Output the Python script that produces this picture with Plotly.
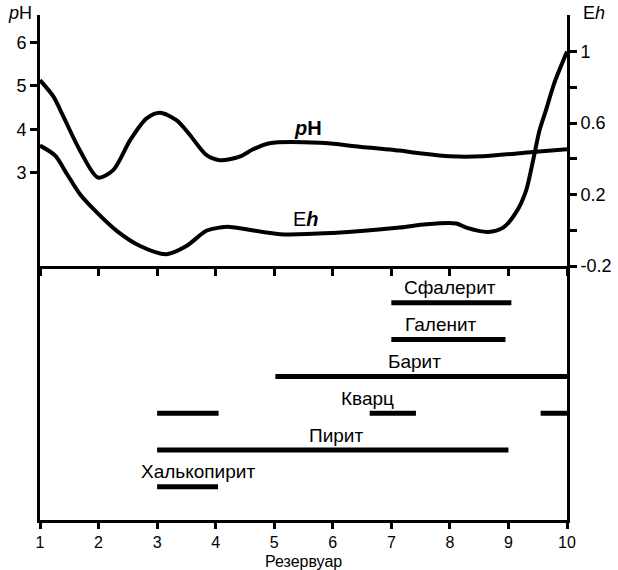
import plotly.graph_objects as go

# ---- data ----
ph_x = [1, 1.23, 1.4, 1.68, 1.99, 2.25, 2.54, 2.82, 3.05, 3.33, 3.56, 3.84, 4.07, 4.41, 4.64,
        4.92, 5.78, 6.46, 7.14, 7.48, 8.0, 8.56, 9.42, 10]
ph_y = [5.13, 4.75, 4.29, 3.52, 2.89, 3.06, 3.75, 4.25, 4.38, 4.21, 3.87, 3.41, 3.29, 3.37, 3.54,
        3.68, 3.69, 3.6, 3.51, 3.45, 3.38, 3.38, 3.48, 3.54]

eh_x = [1, 1.26, 1.46, 1.68, 1.97, 2.31, 2.71, 3.16, 3.5, 3.84, 4.07, 4.24, 5.1, 6.0, 7.14,
        7.6, 8.11, 8.28, 8.65, 8.91, 9.13, 9.3, 9.42, 9.53, 9.64, 9.78, 10]
eh_y = [0.474, 0.418, 0.315, 0.203, 0.10, -0.003, -0.088, -0.134, -0.088, -0.003, 0.015, 0.019,
        -0.022, -0.015, 0.015, 0.034, 0.038, 0.015, -0.009, 0.015, 0.10, 0.221, 0.39, 0.558,
        0.671, 0.821, 1.0]

minerals = ["Сфалерит", "Галенит", "Барит", "Кварц", "Пирит", "Халькопирит"]
mineral_level = [6, 5, 4, 3, 2, 1]
mineral_ranges = [
    [(7.0, 9.05)],
    [(7.0, 8.95)],
    [(5.02, 10.0)],
    [(3.0, 4.05), (6.63, 7.42), (9.55, 10.0)],
    [(3.0, 9.0)],
    [(3.0, 4.04)],
]
mineral_label_x = [8.0, 7.85, 7.4, 6.6, 6.05, 3.7]

x_ticks = [1, 2, 3, 4, 5, 6, 7, 8, 9, 10]
ph_ticks = [3, 4, 5, 6]
eh_ticks = [-0.2, 0, 0.2, 0.4, 0.6, 0.8, 1]
eh_ticktext = ["-0.2", "", "0.2", "", "0.6", "", "1"]

FONT = "Liberation Sans, Arial, sans-serif"
BLACK = "#000000"

fig = go.Figure()

fig.add_trace(go.Scatter(x=ph_x, y=ph_y, mode="lines", xaxis="x", yaxis="y",
                         line=dict(color=BLACK, width=4, shape="spline", smoothing=0.8),
                         showlegend=False, hoverinfo="skip"))
fig.add_trace(go.Scatter(x=eh_x, y=eh_y, mode="lines", xaxis="x", yaxis="y2",
                         line=dict(color=BLACK, width=4, shape="spline", smoothing=0.8),
                         showlegend=False, hoverinfo="skip"))

for name, lvl, segs in zip(minerals, mineral_level, mineral_ranges):
    for (a, b) in segs:
        fig.add_trace(go.Scatter(x=[a, b], y=[lvl, lvl], mode="lines", xaxis="x2", yaxis="y3",
                                 line=dict(color=BLACK, width=5),
                                 showlegend=False, hoverinfo="skip"))

annotations = []
for name, lvl, lx in zip(minerals, mineral_level, mineral_label_x):
    annotations.append(dict(x=lx, y=lvl, xref="x2", yref="y3", text=name, showarrow=False,
                            yshift=15, font=dict(family=FONT, size=19, color=BLACK)))

annotations += [
    dict(x=5.58, y=4.03, xref="x", yref="y", text="<b><i>p</i>H</b>", showarrow=False,
         font=dict(family=FONT, size=20, color=BLACK)),
    dict(x=5.55, y=0.062, xref="x", yref="y2", text="E<b><i>h</i></b>", showarrow=False,
         font=dict(family=FONT, size=20, color=BLACK)),
    dict(x=0, y=1, xref="paper", yref="paper", text="<i>p</i>H", showarrow=False,
         xanchor="right", yanchor="top", xshift=-6, yshift=14,
         font=dict(family=FONT, size=18, color=BLACK)),
    dict(x=1, y=1, xref="paper", yref="paper", text="E<i>h</i>", showarrow=False,
         xanchor="left", yanchor="top", xshift=14, yshift=14,
         font=dict(family=FONT, size=18, color=BLACK)),
    dict(x=0.5, y=0, xref="paper", yref="paper", text="Резервуар", showarrow=False,
         xanchor="center", yanchor="top", yshift=-31,
         font=dict(family=FONT, size=16, color=BLACK)),
]

axis_common = dict(showgrid=False, zeroline=False, showline=True, linecolor=BLACK, linewidth=3,
                   ticks="outside", tickcolor=BLACK, tickwidth=2.5, ticklen=7, automargin=False,
                   tickfont=dict(family=FONT, size=18, color=BLACK))

H = 570
W = 618
top_px, bot_px, mid_px = 15, 520, 266
plot_h = bot_px - top_px
split = (bot_px - mid_px) / plot_h

fig.update_layout(
    width=W, height=H,
    margin=dict(l=40, r=51, t=top_px, b=H - bot_px, autoexpand=False),
    paper_bgcolor="white", plot_bgcolor="white",
    xaxis=dict(axis_common, range=[1, 10], tickvals=x_ticks, showticklabels=False,
               anchor="y", domain=[0, 1]),
    yaxis=dict(axis_common, range=[0.855, 6.63], tickvals=ph_ticks,
               domain=[split, 1], anchor="x"),
    yaxis2=dict(axis_common, range=[-0.2, 1.205], tickvals=eh_ticks, ticktext=eh_ticktext,
                overlaying="y", side="right", anchor="x"),
    xaxis2=dict(axis_common, range=[1, 10], tickvals=x_ticks, anchor="y3", domain=[0, 1],
                ticklen=6, tickfont=dict(family=FONT, size=16, color=BLACK)),
    yaxis3=dict(showgrid=False, zeroline=False, showline=True, linecolor=BLACK, linewidth=3,
                mirror=True, ticks="", showticklabels=False, range=[0.1, 7.0], automargin=False,
                domain=[0, split], anchor="x2"),
    annotations=annotations,
)

fig.write_html("out.html", config={"displayModeBar": False},
               post_script="document.body.style.margin='0';document.body.style.padding='0';")
